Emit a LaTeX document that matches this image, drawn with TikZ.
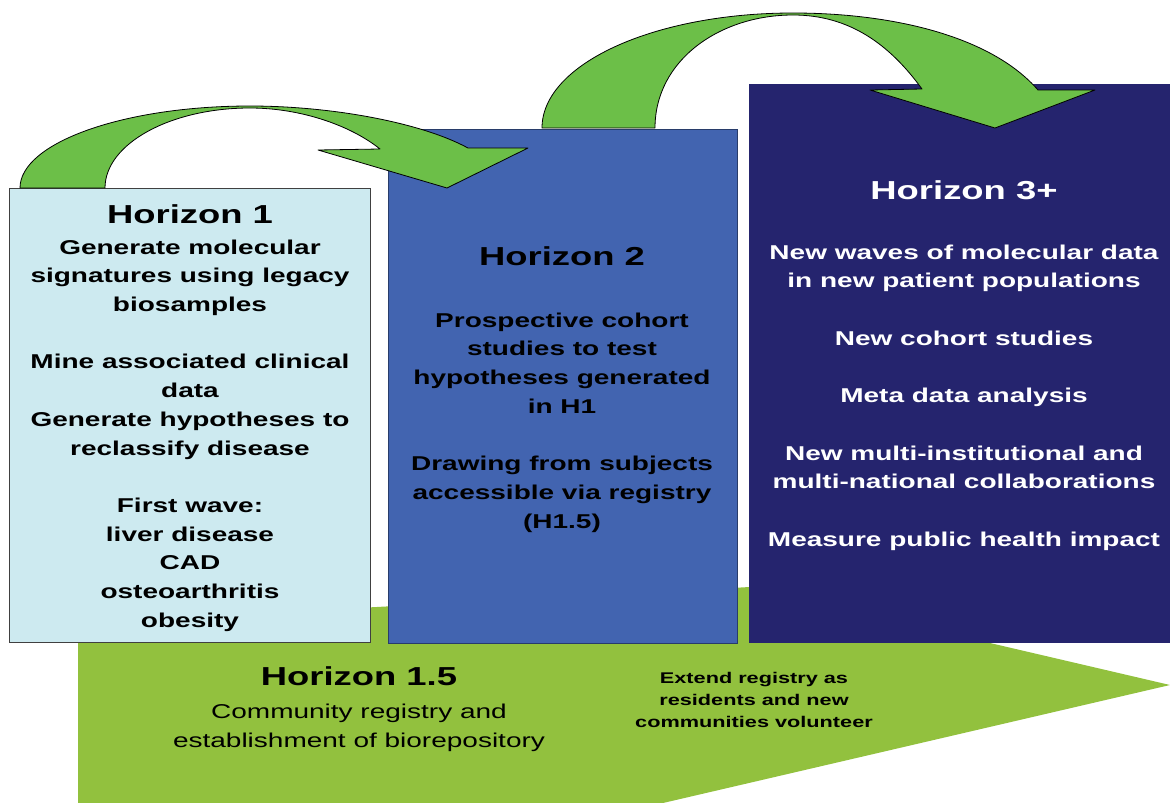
\documentclass[tikz,border=0pt]{standalone}
\usepackage{fontspec}
\setmainfont{Liberation Sans}[FakeStretch=1.4]
\usetikzlibrary{positioning}

\definecolor{hzlight}{RGB}{205,234,240}
\definecolor{hzmid}{RGB}{66,100,176}
\definecolor{hzdark}{RGB}{37,36,110}
\definecolor{regreen}{RGB}{146,193,62}
\definecolor{jumpgreen}{RGB}{108,191,72}

\tikzset{
  box/.style={rectangle, inner sep=0pt, anchor=north west},
  title/.style={font=\bfseries\fontsize{26}{30}\selectfont, inner sep=0pt, anchor=base},
  body/.style={font=\bfseries\fontsize{20}{28.7}\selectfont, align=center, inner sep=0pt},
  jump/.style={fill=jumpgreen, draw=black, line width=0.8pt, line join=round},
}

\begin{document}
\begin{tikzpicture}[x=1pt,y=-1pt]
\useasboundingbox (0,0) rectangle (1170,803);

% registry arrow underneath everything
\fill[regreen] (78,803) -- (78,623) -- (750,587) -- (1170,685) -- (663,803) -- cycle;

% the three horizons
\node[box, fill=hzlight, draw=black!75, line width=0.8pt, minimum width=361pt, minimum height=454pt] (h1) at (9,188) {};
\node[box, fill=hzmid, draw=hzmid!60!black, line width=0.6pt, minimum width=349pt, minimum height=514pt] (h2) at (388,129) {};
\node[box, fill=hzdark, minimum width=421pt, minimum height=559pt] (h3) at (749,84) {};

% jumps from one horizon to the next
\draw[jump] (20,188) .. controls (20,143) and (123,106) .. (250,106)
  .. controls (330,106) and (420,122) .. (468,148)
  -- (528,148) -- (447,188) -- (318,150) -- (380,149)
  .. controls (350,125) and (300,108) .. (250,108)
  .. controls (170,108) and (105,144) .. (105,188) -- cycle;
\draw[jump] (542,128) .. controls (542,64) and (654,13) .. (793,13)
  .. controls (890,13) and (990,35) .. (1038,90)
  -- (1095,90) -- (995,128) -- (870,90) -- (922,89)
  .. controls (890,45) and (850,15) .. (793,15)
  .. controls (720,15) and (655,60) .. (655,128) -- cycle;

% Horizon 1
\node[title] (t1) at (190,223) {Horizon 1};
\node[body, below=16pt of t1] (b1) {Generate molecular\\signatures using legacy\\biosamples\\[28.7pt]
  Mine associated clinical\\data\\Generate hypotheses to\\reclassify disease\\[28.7pt]
  First wave:\\liver disease\\CAD\\osteoarthritis\\obesity};

% Horizon 2
\node[title] (t2) at (562,265) {Horizon 2};
\node[body, below=47pt of t2] (b2) {Prospective cohort\\studies to test\\hypotheses generated\\in H1\\[28.7pt]
  Drawing from subjects\\accessible via registry\\(H1.5)};

% Horizon 3+
\node[title, text=white] (t3) at (964,199) {Horizon 3+};
\node[body, text=white, below=45pt of t3] (b3) {New waves of molecular data\\in new patient populations\\[28.7pt]
  New cohort studies\\[28.7pt]Meta data analysis\\[28.7pt]
  New multi-institutional and\\multi-national collaborations\\[28.7pt]
  Measure public health impact};

% Horizon 1.5
\node[title] (t15) at (359,685) {Horizon 1.5};
\node[font=\fontsize{20}{29}\selectfont, align=center, inner sep=0pt, below=18pt of t15] (b15)
  {Community registry and\\establishment of biorepository};
\node[font=\bfseries\fontsize{15.5}{22}\selectfont, align=center, inner sep=0pt, anchor=north] (ext) at (754,672)
  {Extend registry as\\residents and new\\communities volunteer};
\end{tikzpicture}
\end{document}
